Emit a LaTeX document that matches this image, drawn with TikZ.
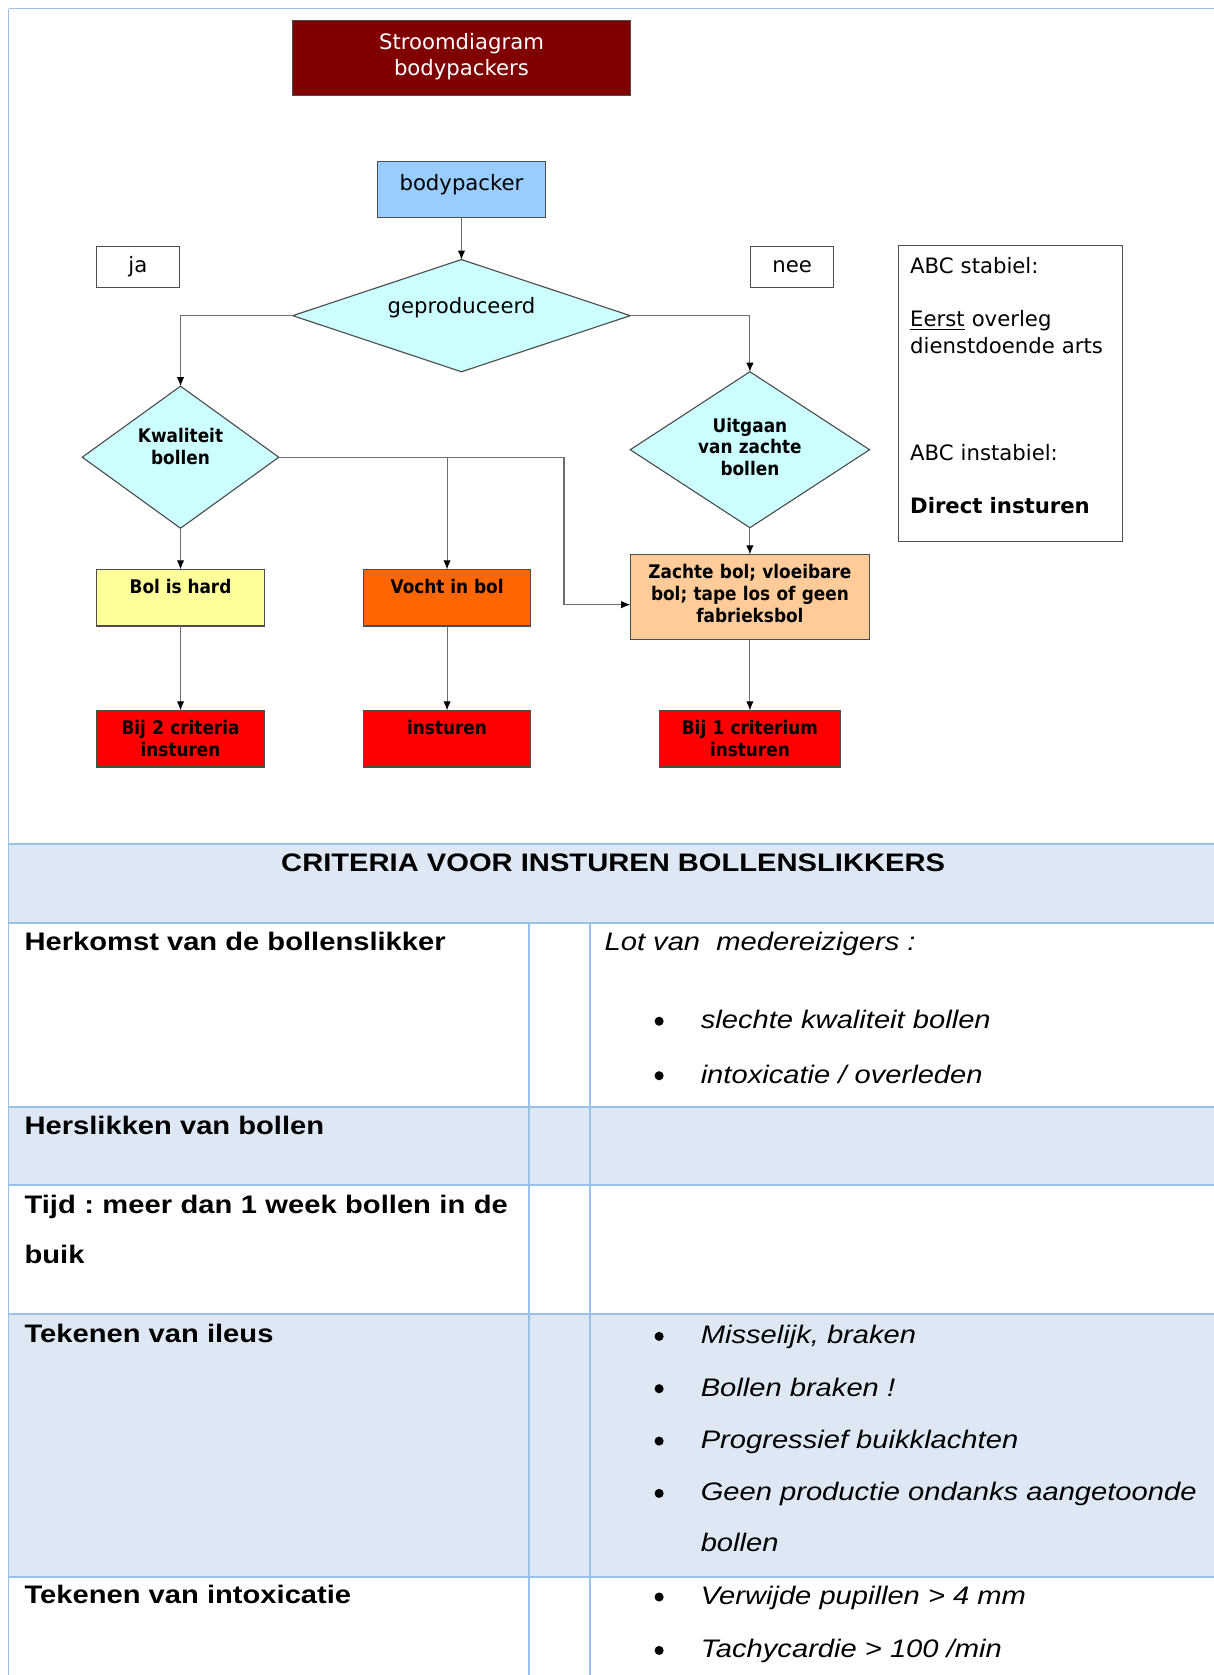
\documentclass[tikz,border=0pt]{standalone}
\usepackage{fontspec}
\setmainfont{DejaVu Sans}
\newfontfamily\tahomalike{DejaVu Sans}[FakeStretch=0.9]
\newfontfamily\arialwide{Liberation Sans}[FakeStretch=1.15]
\usepackage{xcolor}
\usepackage{tikz}
\usetikzlibrary{arrows.meta, positioning, shapes.geometric}

\definecolor{titlered}{HTML}{800000}
\definecolor{startblue}{HTML}{99CCFF}
\definecolor{askcyan}{HTML}{CCFFFF}
\definecolor{hardyellow}{HTML}{FFFF99}
\definecolor{fluidorange}{HTML}{FF6600}
\definecolor{softpeach}{HTML}{FFCC99}
\definecolor{sendred}{HTML}{FF0000}
\definecolor{boxline}{HTML}{4D4D4D}
\definecolor{linkgray}{HTML}{6E6E6E}
\definecolor{tabline}{RGB}{155,194,230}
\definecolor{tabfill}{RGB}{221,232,244}

\begin{document}
\frenchspacing
\begin{tikzpicture}[
  x=0.2mm, y=-0.2mm,
  every node/.style={inner sep=0pt, outer sep=0pt},
  box/.style={rectangle, draw=boxline, line width=0.6pt, inner xsep=1mm, align=center},
  stepbox/.style={box, text height=4.6mm},
  plain/.style={font=\fontsize{11.3}{14.2}\selectfont},
  bold/.style={font=\tahomalike\bfseries\fontsize{10}{11.6}\selectfont},
  ask/.style={diamond, draw=boxline, line width=0.6pt, fill=askcyan, align=center, text height=3mm},
  link/.style={draw=linkgray, line width=0.6pt, -{Latex[length=1.7mm, width=1.4mm, color=black]}},
  tabrule/.style={draw=tabline, line width=1pt},
  cellhead/.style={font=\arialwide\bfseries\fontsize{13.5}{16}\selectfont, anchor=base west},
  cellitem/.style={font=\arialwide\itshape\fontsize{13.5}{16}\selectfont, anchor=base west}
]
\useasboundingbox (0,0) rectangle (1136,1568);

% criteria table
\fill[tabfill] (8,790) rectangle (1136,864);
\fill[tabfill] (8,1036) rectangle (1136,1109);
\fill[tabfill] (8,1230) rectangle (1136,1476);
\foreach \yy in {790,864,1036,1109,1230,1476}
  \draw[tabrule] (8,\yy) -- (1136,\yy);
\draw[tabrule] (495,864) -- (495,1568);
\draw[tabrule] (552,864) -- (552,1568);
\draw[tabrule] (8,8) -- (8,1568);
\draw[tabrule, line width=0.6pt] (8,8) -- (1136,8);

\node[cellhead, anchor=base] (crit) at (574,816) {CRITERIA VOOR INSTUREN BOLLENSLIKKERS};
\node[cellhead] (origin) at (23,890) {Herkomst van de bollenslikker};
\node[cellitem] (lot) at (566,890) {Lot van\ \ medereizigers :};
\node[cellhead] (reswallow) at (23,1062) {Herslikken van bollen};
\node[cellhead, font=\arialwide\bfseries\fontsize{13.5}{26.6}\selectfont, align=left, text width=94mm] (duration) at (23,1136) {Tijd : meer dan 1 week bollen in de\\buik};
\node[cellhead] (ileus) at (23,1257) {Tekenen van ileus};
\node[cellhead] (intox) at (23,1501) {Tekenen van intoxicatie};
\foreach \yy/\txt [count=\i] in {963/{slechte kwaliteit bollen}, 1014/{intoxicatie / overleden},
    1258/{Misselijk, braken}, 1307/{Bollen braken !}, 1356/{Progressief buikklachten},
    1405/{Geen productie ondanks aangetoonde}, 1502/{Verwijde pupillen > 4 mm}, 1552/{Tachycardie > 100 /min}} {
  \fill (617,\yy-7) circle (0.85mm);
  \node[cellitem] (item\i) at (656,\yy) {\txt};
}
\node[cellitem] (itemrest) at (656,1452) {bollen};

% flowchart
\node[box, plain, fill=titlered, text=white, text width=61.2mm, text height=5.4mm, text depth=8.6mm] (title) at (432,54) {Stroomdiagram\\bodypackers};
\node[box, plain, fill=startblue, minimum width=31.6mm, text height=5.4mm, text depth=5.2mm, below=12.4mm of title] (start) {bodypacker};
\node[ask, plain, aspect=3, minimum width=63.2mm, minimum height=21mm, text depth=3.8mm, below=7.8mm of start] (geprod) {geproduceerd};

\node[box, plain, minimum width=15.6mm, minimum height=7.8mm] (yes) at (129,250) {ja};
\node[box, plain, minimum width=15.6mm, minimum height=7.8mm] (no) at (741.5,250) {nee};
\node[box, plain, anchor=north west, align=left, inner xsep=2.2mm, text width=37.6mm, text height=5.2mm, text depth=50.2mm] (abc) at (841,230)
  {ABC stabiel:\\[14.2pt]\underline{Eerst} overleg\\dienstdoende arts\\[42.6pt]ABC instabiel:\\[14.2pt]\textbf{Direct insturen}};

\node[ask, bold, aspect=1.4, text width=18mm, minimum width=36.8mm, minimum height=26.6mm, text depth=8.6mm] (quality) at (169,428) {Kwaliteit\\bollen};
\node[ask, bold, aspect=1.5, text width=22mm, minimum width=44.8mm, minimum height=29.2mm, text depth=9.6mm] (softq) at (702,421) {Uitgaan\\van zachte\\bollen};

\node[stepbox, bold, fill=hardyellow, minimum width=31.4mm, text depth=6mm] (hard) at (169,559.5) {Bol is hard};
\node[stepbox, bold, fill=fluidorange, minimum width=31.4mm, text depth=6mm] (fluid) at (418.5,559.5) {Vocht in bol};
\node[stepbox, bold, fill=softpeach, text width=42.8mm, text depth=11.4mm] (softbol) at (702,559) {Zachte bol; vloeibare\\bol; tape los of geen\\fabrieksbol};
\node[stepbox, bold, fill=sendred, text width=29.4mm, text depth=6mm] (send2) at (169,691.5) {Bij 2 criteria\\insturen};
\node[stepbox, bold, fill=sendred, minimum width=31.4mm, text depth=6mm] (sendnow) at (418.5,691.5) {insturen};
\node[stepbox, bold, fill=sendred, text width=32mm, text depth=6mm] (send1) at (702,691.5) {Bij 1 criterium\\insturen};

\coordinate (detour) at (528,566);
\draw[link] (start) -- (geprod);
\draw[link] (geprod.west) -| (quality.north);
\draw[link] (geprod.east) -| (softq.north);
\draw[link] (quality.south) -- (hard.north);
\draw[link] (quality.east) -| (fluid.north);
\draw[link] (quality.east) -| (detour) -- (detour -| softbol.west);
\draw[link] (softq) -- (softbol);
\draw[link] (hard) -- (send2);
\draw[link] (fluid) -- (sendnow);
\draw[link] (softbol) -- (send1);
\end{tikzpicture}
\end{document}
